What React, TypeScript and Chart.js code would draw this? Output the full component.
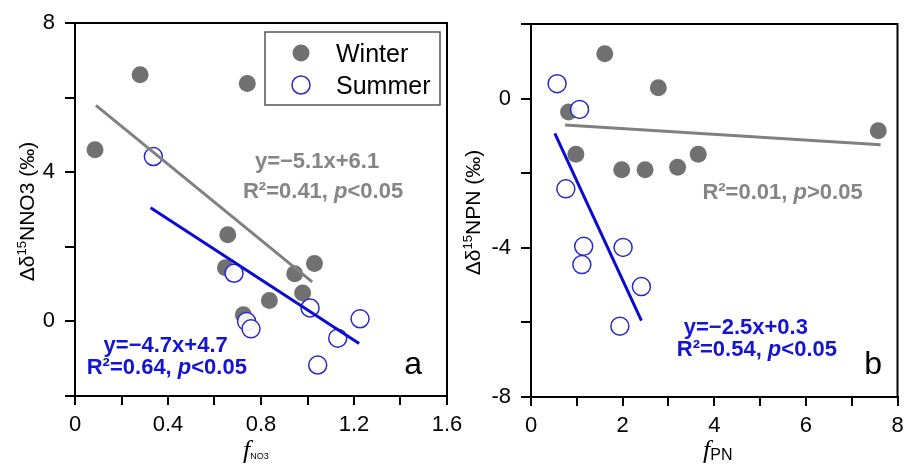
import { useEffect, useRef } from 'react';
import { Chart, registerables } from 'chart.js';
Chart.register(...registerables);

const SANS = '"Liberation Sans", Arial, sans-serif';
const SERIF = '"Liberation Serif", "Times New Roman", serif';

// ---- Panel a data ----
const winterA_x = [0.086, 0.28, 0.741, 0.657, 0.647, 0.724, 0.836, 0.945, 0.979, 1.03];
const winterA_y = [4.6, 6.61, 6.38, 2.32, 1.44, 0.18, 0.56, 1.28, 0.76, 1.55];
const summerA_x = [0.337, 0.684, 0.738, 0.757, 1.011, 1.13, 1.226, 1.044];
const summerA_y = [4.42, 1.29, 0.0, -0.2, 0.36, -0.45, 0.07, -1.17];
const fitWinterA_x = [0.09, 1.02];
const fitWinterA_y = [5.79, 1.06];
const fitSummerA_x = [0.325, 1.222];
const fitSummerA_y = [3.05, -0.59];

// ---- Panel b data ----
const winterB_x = [1.61, 2.78, 0.82, 0.98, 1.98, 2.49, 3.2, 3.65, 7.58];
const winterB_y = [1.2, 0.29, -0.36, -1.49, -1.91, -1.91, -1.84, -1.49, -0.86];
const summerB_x = [0.57, 1.06, 0.76, 1.15, 1.11, 2.01, 2.41, 1.94];
const summerB_y = [0.4, -0.29, -2.42, -3.96, -4.45, -3.99, -5.04, -6.1];
const fitWinterB_x = [0.745, 7.63];
const fitWinterB_y = [-0.71, -1.24];
const fitSummerB_x = [0.52, 2.41];
const fitSummerB_y = [-0.93, -5.95];

// axis ranges / ticks
const axisA = { xMin: 0, xMax: 1.6, xStep: 0.2, xLabelEvery: 0.4, yMin: -2, yMax: 8, yStep: 2, yLabelEvery: 4 };
const axisB = { xMin: 0, xMax: 8, xStep: 1, xLabelEvery: 2, yMin: -8, yMax: 2, yStep: 2, yLabelEvery: 4 };

const legendLabels = ['Winter', 'Summer'];

const GRAY_PT = '#717171';
const GRAY_LINE = '#808080';
const GRAY_TEXT = '#858585';
const BLUE_LINE = '#0a0ad0';
const BLUE_TEXT = '#1414d2';
const BLUE_PT = '#2a2ac4';

type Seg = { t: string; size: number; bold?: boolean; italic?: boolean; serif?: boolean; dy?: number };

function fontOf(s: Seg) {
  return `${s.italic ? 'italic ' : ''}${s.bold ? 'bold ' : ''}${s.size}px ${s.serif ? SERIF : SANS}`;
}

function drawRich(ctx: CanvasRenderingContext2D, segs: Seg[], x: number, y: number, align: 'center' | 'left', color: string) {
  ctx.save();
  ctx.fillStyle = color;
  ctx.textBaseline = 'alphabetic';
  ctx.textAlign = 'left';
  let total = 0;
  const widths = segs.map((s) => {
    ctx.font = fontOf(s);
    const w = ctx.measureText(s.t).width;
    total += w;
    return w;
  });
  let cx = align === 'center' ? x - total / 2 : x;
  segs.forEach((s, i) => {
    ctx.font = fontOf(s);
    ctx.fillText(s.t, cx, y + (s.dy || 0));
    cx += widths[i];
  });
  ctx.restore();
}

const pts = (xs: number[], ys: number[]) => xs.map((x, i) => ({ x, y: ys[i] }));

type Note = { x: number; y: number; segs: Seg[]; color: string };

type PanelCfg = {
  width: number;
  left: number;
  plotLeft: number;
  plotTop: number;
  plotRight: number;
  plotBottom: number;
  axis: typeof axisA;
  winter: { x: number; y: number }[];
  summer: { x: number; y: number }[];
  fitW: { x: number; y: number }[];
  fitS: { x: number; y: number }[];
  notes: Note[];
  yTitle: Seg[];
  yTitleX: number;
  xTitle: Seg[];
  xTitleX: number;
  xTitleY: number;
  legend: boolean;
};

const H = 466;

function fmt(v: number) {
  return String(Number(v.toFixed(2)));
}

function isMultiple(v: number, step: number) {
  const r = v / step;
  return Math.abs(r - Math.round(r)) < 1e-6;
}

function makeChart(canvas: HTMLCanvasElement, cfg: PanelCfg) {
  const tickFont = { size: 22, family: SANS };
  const annot = {
    id: 'annot',
    afterDatasetsDraw(chart: any) {
      const ctx: CanvasRenderingContext2D = chart.ctx;
      const ca = chart.chartArea;
      const xs = chart.scales.x;
      const ys = chart.scales.y;
      // frame
      ctx.save();
      ctx.strokeStyle = '#000';
      ctx.lineWidth = 2;
      ctx.strokeRect(ca.left, ca.top, ca.right - ca.left, ca.bottom - ca.top);
      ctx.restore();
      // notes
      cfg.notes.forEach((n) => {
        drawRich(ctx, n.segs, xs.getPixelForValue(n.x), ys.getPixelForValue(n.y), 'center', n.color);
      });
      // legend
      if (cfg.legend) {
        const lx = ca.left + 190, ly = ca.top + 9, lw = 175, lh = 73;
        ctx.save();
        ctx.fillStyle = '#fff';
        ctx.fillRect(lx, ly, lw, lh);
        ctx.strokeStyle = '#555';
        ctx.lineWidth = 1.5;
        ctx.strokeRect(lx, ly, lw, lh);
        ctx.fillStyle = GRAY_PT;
        ctx.beginPath();
        ctx.arc(lx + 36, ly + 21, 8.5, 0, Math.PI * 2);
        ctx.fill();
        ctx.strokeStyle = BLUE_PT;
        ctx.lineWidth = 1.5;
        ctx.beginPath();
        ctx.arc(lx + 36, ly + 53, 9, 0, Math.PI * 2);
        ctx.stroke();
        ctx.restore();
        drawRich(ctx, [{ t: legendLabels[0], size: 25 }], lx + 71, ly + 30, 'left', '#000');
        drawRich(ctx, [{ t: legendLabels[1], size: 25 }], lx + 71, ly + 62, 'left', '#000');
      }
      // y title (rotated)
      ctx.save();
      const cy = (ca.top + ca.bottom) / 2 + 2;
      ctx.translate(cfg.yTitleX, cy);
      ctx.rotate(-Math.PI / 2);
      drawRich(ctx, cfg.yTitle, 0, 0, 'center', '#000');
      ctx.restore();
      // x title
      drawRich(ctx, cfg.xTitle, cfg.xTitleX, cfg.xTitleY, 'left', '#000');
    },
  };

  const ax = cfg.axis;
  return new Chart(canvas, {
    type: 'scatter',
    data: {
      datasets: [
        {
          type: 'line',
          data: cfg.fitS,
          borderColor: BLUE_LINE,
          borderWidth: 3,
          pointRadius: 0,
          showLine: true,
          fill: false,
        } as any,
        {
          type: 'line',
          data: cfg.fitW,
          borderColor: GRAY_LINE,
          borderWidth: 3,
          pointRadius: 0,
          showLine: true,
          fill: false,
        } as any,
        {
          label: legendLabels[1],
          data: cfg.summer,
          backgroundColor: 'rgba(255,255,255,0.9)',
          borderColor: BLUE_PT,
          borderWidth: 1.5,
          pointRadius: 9,
        },
        {
          label: legendLabels[0],
          data: cfg.winter,
          backgroundColor: GRAY_PT,
          borderColor: GRAY_PT,
          borderWidth: 0,
          pointRadius: 8.5,
        },
      ],
    },
    options: {
      animation: false,
      responsive: false,
      devicePixelRatio: 1,
      layout: { padding: { left: 0, top: cfg.plotTop, right: cfg.width - cfg.plotRight, bottom: 0 } },
      plugins: { legend: { display: false }, tooltip: { enabled: false } },
      scales: {
        x: {
          type: 'linear',
          min: ax.xMin,
          max: ax.xMax,
          ticks: {
            stepSize: ax.xStep,
            autoSkip: false,
            maxRotation: 0,
            padding: 7,
            color: '#000',
            font: tickFont,
            callback: (v: any) => (isMultiple(Number(v), ax.xLabelEvery) ? fmt(Number(v)) : ''),
          },
          grid: { display: true, drawOnChartArea: false, drawTicks: true, tickLength: 9, color: '#000', lineWidth: 2 },
          border: { display: true, color: '#000', width: 2 },
          afterFit: (s: any) => {
            s.height = H - cfg.plotBottom;
            s.paddingLeft = 0;
            s.paddingRight = 0;
          },
        },
        y: {
          type: 'linear',
          min: ax.yMin,
          max: ax.yMax,
          ticks: {
            stepSize: ax.yStep,
            autoSkip: false,
            padding: 10,
            color: '#000',
            font: tickFont,
            callback: (v: any) => (isMultiple(Number(v), ax.yLabelEvery) ? fmt(Number(v)) : ''),
          },
          grid: { display: true, drawOnChartArea: false, drawTicks: true, tickLength: 10, color: '#000', lineWidth: 2 },
          border: { display: true, color: '#000', width: 2 },
          afterFit: (s: any) => {
            s.width = cfg.plotLeft;
            s.paddingTop = 0;
            s.paddingBottom = 0;
          },
        },
      },
    } as any,
    plugins: [annot],
  });
}

const panelA: PanelCfg = {
  width: 480,
  left: 0,
  plotLeft: 75,
  plotTop: 23,
  plotRight: 447,
  plotBottom: 396,
  axis: axisA,
  winter: pts(winterA_x, winterA_y),
  summer: pts(summerA_x, summerA_y),
  fitW: pts(fitWinterA_x, fitWinterA_y),
  fitS: pts(fitSummerA_x, fitSummerA_y),
  notes: [
    { x: 1.041, y: 4.1, color: GRAY_TEXT, segs: [{ t: 'y=\u22125.1x+6.1', size: 22, bold: true }] },
    {
      x: 1.067, y: 3.3, color: GRAY_TEXT,
      segs: [{ t: 'R\u00b2=0.41, ', size: 22, bold: true }, { t: 'p', size: 22, bold: true, italic: true }, { t: '<0.05', size: 22, bold: true }],
    },
    { x: 0.39, y: -0.82, color: BLUE_TEXT, segs: [{ t: 'y=\u22124.7x+4.7', size: 22, bold: true }] },
    {
      x: 0.395, y: -1.42, color: BLUE_TEXT,
      segs: [{ t: 'R\u00b2=0.64, ', size: 22, bold: true }, { t: 'p', size: 22, bold: true, italic: true }, { t: '<0.05', size: 22, bold: true }],
    },
    { x: 1.454, y: -1.42, color: '#000', segs: [{ t: 'a', size: 32 }] },
  ],
  yTitle: [
    { t: '\u0394\u03b4', size: 21 },
    { t: '15', size: 13, dy: -8 },
    { t: 'NNO3 (\u2030)', size: 21 },
  ],
  yTitleX: 34,
  xTitle: [
    { t: 'f', size: 26, italic: true, serif: true },
    { t: 'NO3', size: 9, dy: 1 },
  ],
  xTitleX: 243,
  xTitleY: 458,
  legend: true,
};

const panelB: PanelCfg = {
  width: 454,
  left: 454,
  plotLeft: 77,
  plotTop: 24,
  plotRight: 449,
  plotBottom: 397,
  axis: axisB,
  winter: pts(winterB_x, winterB_y),
  summer: pts(summerB_x, summerB_y),
  fitW: pts(fitWinterB_x, fitWinterB_y),
  fitS: pts(fitSummerB_x, fitSummerB_y),
  notes: [
    {
      x: 5.49, y: -2.7, color: GRAY_TEXT,
      segs: [{ t: 'R\u00b2=0.01, ', size: 22, bold: true }, { t: 'p', size: 22, bold: true, italic: true }, { t: '>0.05', size: 22, bold: true }],
    },
    { x: 4.69, y: -6.3, color: BLUE_TEXT, segs: [{ t: 'y=\u22122.5x+0.3', size: 22, bold: true }] },
    {
      x: 4.93, y: -6.9, color: BLUE_TEXT,
      segs: [{ t: 'R\u00b2=0.54, ', size: 22, bold: true }, { t: 'p', size: 22, bold: true, italic: true }, { t: '<0.05', size: 22, bold: true }],
    },
    { x: 7.47, y: -7.37, color: '#000', segs: [{ t: 'b', size: 32 }] },
  ],
  yTitle: [
    { t: '\u0394\u03b4', size: 21 },
    { t: '15', size: 13, dy: -8 },
    { t: 'NPN (\u2030)', size: 21 },
  ],
  yTitleX: 26,
  xTitle: [
    { t: 'f', size: 26, italic: true, serif: true },
    { t: 'PN', size: 16, dy: 2 },
  ],
  xTitleX: 249,
  xTitleY: 458,
  legend: false,
};

function Panel({ cfg }: { cfg: PanelCfg }) {
  const ref = useRef<HTMLCanvasElement>(null);
  useEffect(() => {
    if (!ref.current) return;
    const c = makeChart(ref.current, cfg);
    return () => c.destroy();
  }, [cfg]);
  return (
    <canvas
      ref={ref}
      width={cfg.width}
      height={H}
      style={{ position: 'absolute', left: cfg.left, top: 0, width: cfg.width, height: H }}
    />
  );
}

export default function App() {
  return (
    <div style={{ position: 'absolute', left: 0, top: 0, width: 908, height: H, background: '#fff', overflow: 'hidden' }}>
      <Panel cfg={panelA} />
      <Panel cfg={panelB} />
    </div>
  );
}
